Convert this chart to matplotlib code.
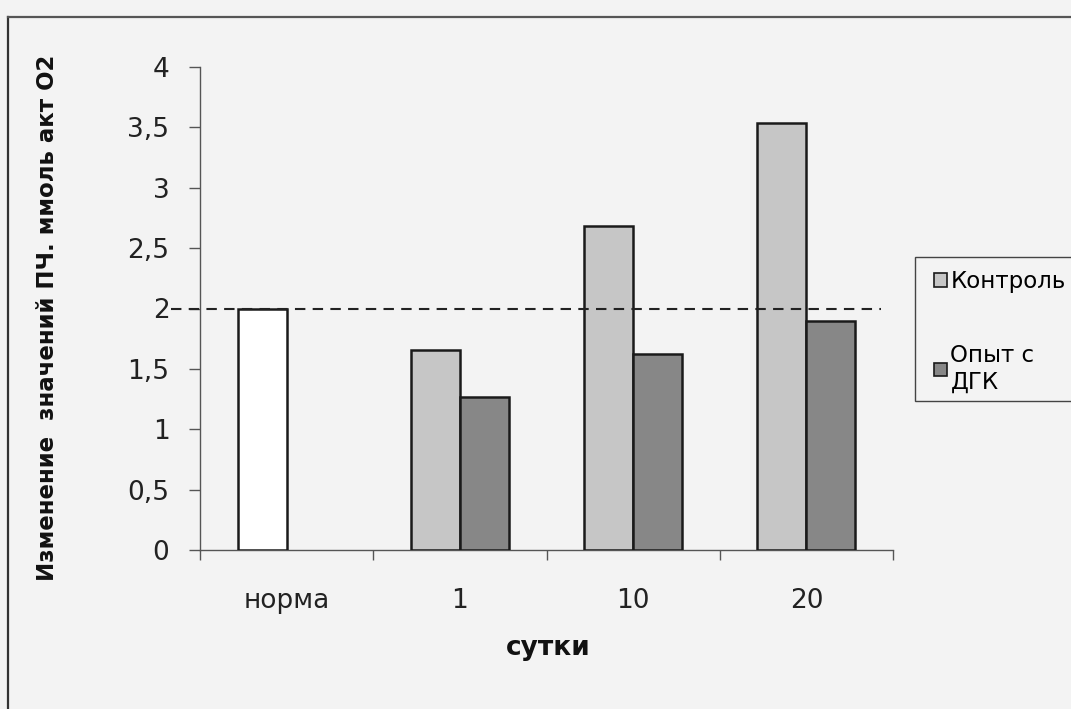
import matplotlib.pyplot as plt
from matplotlib.lines import Line2D
from matplotlib.patches import Patch, Rectangle
import numpy as np

plt.rcParams['font.family'] = ['DejaVu Sans']

# data
categories = ['норма', '1', '10', '20']
control = [2.0, 1.66, 2.68, 3.54]        # первый столбик норма - белая заливка
experiment = [None, 1.27, 1.62, 1.90]
norm_level = 2.0
yticks = [0, 0.5, 1, 1.5, 2, 2.5, 3, 3.5, 4]
ytick_labels = ['0', '0,5', '1', '1,5', '2', '2,5', '3', '3,5', '4']
series_names = ['Контроль', 'Опыт с\nДГК']

bg = '#f3f3f3'
c_light = '#c6c6c6'
c_dark = '#878787'
edge = '#1a1a1a'

fig = plt.figure(figsize=(10.71, 7.09), dpi=100, facecolor=bg)
ax = fig.add_axes([200 / 1071, 1 - 550 / 709, 693 / 1071, 483 / 709])
ax.set_facecolor(bg)

x = np.arange(len(categories))
w = 0.283

for i in x:
    fill = 'white' if categories[i] == 'норма' else c_light
    ax.bar(i - w / 2, control[i], w, color=fill, edgecolor=edge, linewidth=1.8, zorder=3)
    if experiment[i] is not None:
        ax.bar(i + w / 2, experiment[i], w, color=c_dark, edgecolor=edge, linewidth=1.8, zorder=3)

# уровень нормы
ax.plot([-0.67, 3.43], [norm_level, norm_level], color='#222222', lw=1.5,
        ls=(0, (5, 3.5)), clip_on=False, zorder=4)

ax.set_xlim(-0.5, 3.5)
ax.set_ylim(0, 4)

for s in ['top', 'right']:
    ax.spines[s].set_visible(False)
for s in ['left', 'bottom']:
    ax.spines[s].set_color('#555555')
    ax.spines[s].set_linewidth(1.0)

ax.set_yticks(yticks)
ax.set_yticklabels(ytick_labels, fontsize=19, color='#222222')
ax.tick_params(axis='y', length=8, width=1.0, color='#555555', pad=14)

ax.set_xticks(np.arange(-0.5, 3.6, 1.0))
ax.set_xticklabels([])
ax.tick_params(axis='x', which='major', length=7, width=1.0, color='#555555', direction='out')
ax.set_xticks(x, minor=True)
ax.set_xticklabels(categories, minor=True, fontsize=19, color='#222222')
ax.tick_params(axis='x', which='minor', length=0, pad=27)

fig.text(548 / 1071, 1 - 648 / 709, 'сутки', fontsize=19, fontweight='bold',
         ha='center', va='center', color='#111111')
fig.text(48 / 1071, 1 - 318 / 709, 'Изменение  значений ПЧ. ммоль акт О2', fontsize=16.5,
         fontweight='bold', rotation=90, ha='center', va='center', color='#111111')

# рамка легенды уходит за правый край
fig.add_artist(Rectangle((915 / 1071, 1 - 401 / 709), 200 / 1071, 144 / 709,
                         transform=fig.transFigure, facecolor=bg, edgecolor='#444444',
                         linewidth=1.0, clip_on=False))

handles = [Patch(facecolor=c_light, edgecolor=edge, linewidth=1.2),
           Patch(facecolor=c_dark, edgecolor=edge, linewidth=1.2)]
leg = fig.legend(handles, series_names, loc='upper left',
                 bbox_to_anchor=(923 / 1071, 1 - 259 / 709), borderaxespad=0,
                 fontsize=16.5, frameon=False, handlelength=0.55, handleheight=0.55,
                 handletextpad=0.15, labelspacing=2.2, borderpad=0.5)

# рамка диаграммы
fig.add_artist(Line2D([8 / 1071, 8 / 1071], [0, 1 - 17 / 709], color='#333333', lw=1.6))
fig.add_artist(Line2D([8 / 1071, 1], [1 - 17 / 709, 1 - 17 / 709], color='#555555', lw=1.6))

fig.savefig('out.png', dpi=100, facecolor=bg)
